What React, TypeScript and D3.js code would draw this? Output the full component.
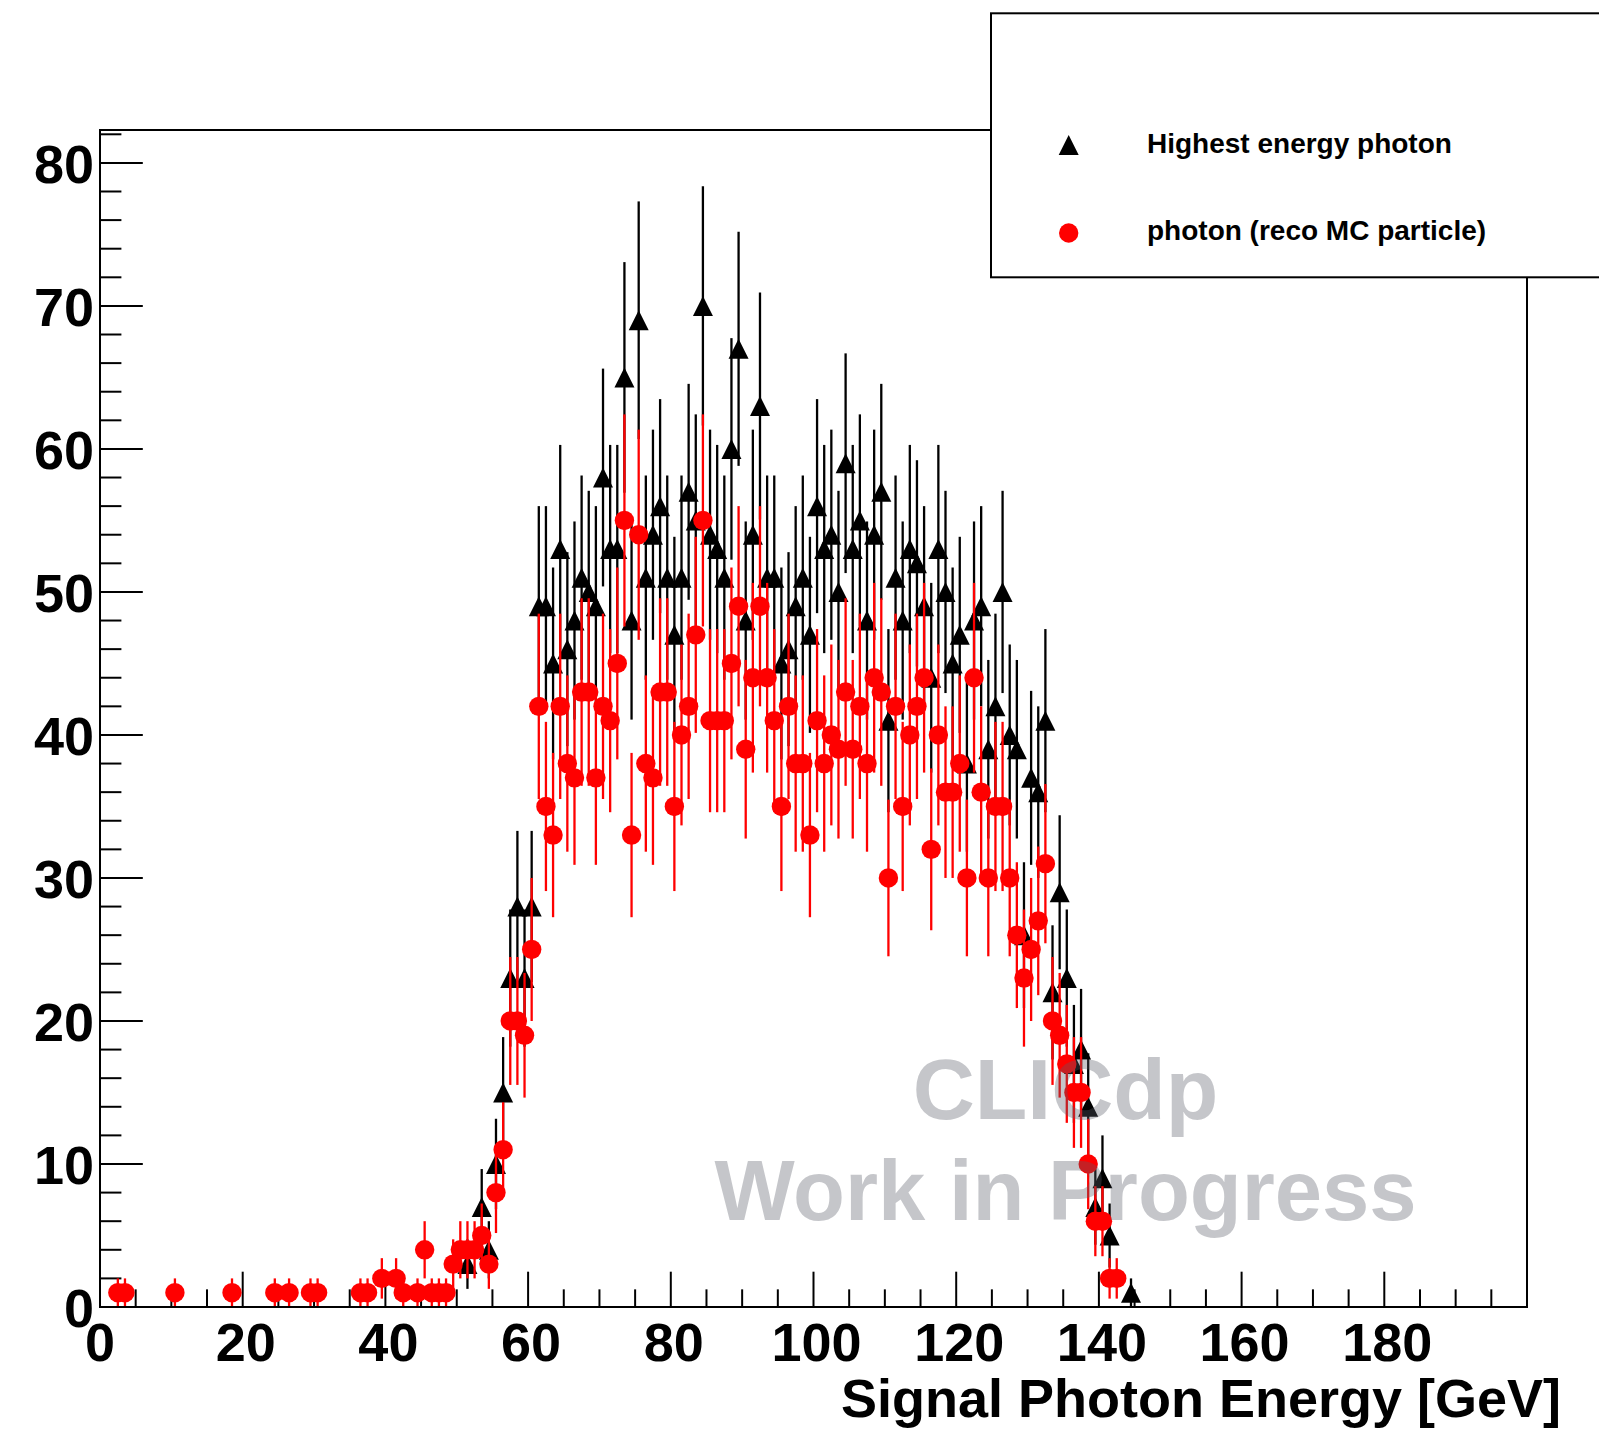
import React from "react";
import * as d3 from "d3";

// ---------------- data (1 GeV bins, value = bin lower edge) ----------------
const blackBins = [
  51, 53, 54, 55, 56, 57, 58, 59, 60, 61, 62, 63, 64, 65, 66, 67, 68, 69, 70,
  71, 72, 73, 74, 75, 76, 77, 78, 79, 80, 81, 82, 83, 84, 85, 86, 87, 88, 89,
  90, 91, 92, 93, 94, 95, 96, 97, 98, 99, 100, 101, 102, 103, 104, 105, 106,
  107, 108, 109, 110, 111, 112, 113, 114, 115, 116, 117, 118, 119, 120, 121,
  122, 123, 124, 125, 126, 127, 128, 129, 130, 131, 132, 133, 134, 135, 136,
  137, 138, 139, 140, 141, 144,
];
const blackCounts = [
  3, 7, 4, 10, 15, 23, 28, 23, 28, 49, 49, 45, 53, 46, 48, 51, 50, 49, 58,
  53, 53, 65, 48, 69, 51, 54, 56, 51, 47, 51, 57, 55, 70, 54, 53, 51, 60, 67,
  48, 54, 63, 51, 51, 45, 46, 49, 51, 47, 56, 53, 54, 50, 59, 53, 55,
  48, 54, 57, 41, 51, 48, 53, 52, 49, 44, 53, 50, 45, 47, 38,
  48, 49, 39, 42, 50, 40, 39, 26, 37, 36, 41, 22, 29, 23, 17,
  18, 14, 7, 9, 5, 1,
];

const redBins = [
  2, 3, 10, 18, 24, 26, 29, 30, 36, 37, 39, 41, 42, 44, 45, 46, 47, 48,
  49, 50, 51, 52, 53, 54, 55, 56, 57, 58, 59, 60, 61, 62, 63, 64, 65, 66, 67,
  68, 69, 70, 71, 72, 73, 74, 75, 76, 77, 78, 79, 80, 81, 82, 83, 84, 85, 86,
  87, 88, 89, 90, 91, 92, 93, 94, 95, 96, 97, 98, 99, 100, 101, 102, 103, 104,
  105, 106, 107, 108, 109, 110, 111, 112, 113, 114, 115, 116, 117, 118, 119,
  120, 121, 122, 123, 124, 125, 126, 127, 128, 129, 130, 131, 132, 133, 134,
  135, 136, 137, 138, 139, 140, 141, 142,
];
const redCounts = [
  1, 1, 1, 1, 1, 1, 1, 1, 1, 1, 2, 2, 1, 1, 4, 1, 1, 1,
  3, 4, 4, 4, 5, 3, 8, 11, 20, 20, 19, 25, 42, 35, 33, 42, 38, 37, 43,
  43, 37, 42, 41, 45, 55, 33, 54, 38, 37, 43, 43, 35, 40, 42, 47, 55, 41, 41,
  41, 45, 49, 39, 44, 49, 44, 41, 35, 42, 38, 38, 33, 41, 38, 40, 39, 43,
  39, 42, 38, 44, 43, 30, 42, 35, 40, 42, 44, 32, 40, 36, 36,
  38, 30, 44, 36, 30, 35, 35, 30, 26, 23, 25, 27, 31, 20, 19,
  17, 15, 15, 10, 6, 6, 2, 2,
];

const xTickLabels = [0, 20, 40, 60, 80, 100, 120, 140, 160, 180];
const yTickLabels = [0, 10, 20, 30, 40, 50, 60, 70, 80];
const legendLabels = ["Highest energy photon", "photon (reco MC particle)"];
const xTitle = "Signal Photon Energy [GeV]";
const watermarkLines = ["CLICdp", "Work in Progress"];

const X_MIN = 0;
const X_MAX = 200;
const Y_MAX = 82.3;
const BIN_WIDTH = 1;

// ---------------- layout ----------------
const W = 1599;
const H = 1429;
const FRAME = { left: 100, right: 1527, top: 130, bottom: 1307 };
const FONT = "'Liberation Sans', Arial, Helvetica, sans-serif";

const x = d3.scaleLinear().domain([X_MIN, X_MAX]).range([FRAME.left, FRAME.right]);
const y = d3.scaleLinear().domain([0, Y_MAX]).range([FRAME.bottom, FRAME.top]);

const frameW = FRAME.right - FRAME.left;
const frameH = FRAME.bottom - FRAME.top;
const xTickMajor = 0.03 * frameH;
const yTickMajor = 0.03 * frameW;

const xMinorTicks = d3.range(X_MIN, X_MAX, 5);
const yMinorTicks = d3.range(0, Y_MAX, 2);

const triPath = (s: number) => `M${-s},${s}L${s},${s}L0,${-s}Z`;

function Series({ bins, counts, color, marker }: { bins: number[]; counts: number[]; color: string; marker: "tri" | "circle" }) {
  const pts = bins.map((b, i) => ({ cx: x(b + BIN_WIDTH / 2), n: counts[i] }));
  return (
    <g>
      {pts.map((p, i) => {
        const e = Math.sqrt(p.n);
        return (
          <line key={"e" + i} x1={p.cx} x2={p.cx} y1={y(p.n - e)} y2={y(Math.min(p.n + e, Y_MAX))}
            stroke={color} strokeWidth={2.3} />
        );
      })}
      {pts.map((p, i) =>
        marker === "tri" ? (
          <path key={"m" + i} d={triPath(10)} transform={`translate(${p.cx},${y(p.n)})`} fill={color} />
        ) : (
          <circle key={"m" + i} cx={p.cx} cy={y(p.n)} r={9.7} fill={color} />
        )
      )}
    </g>
  );
}

export default function App() {
  return (
    <>
      <style>{`html,body{margin:0;padding:0;background:#fff;overflow:hidden}`}</style>
      <svg width={W} height={H} viewBox={`0 0 ${W} ${H}`} style={{ display: "block" }} fontFamily={FONT}>
        <rect x={0} y={0} width={W} height={H} fill="#fff" />

        {/* x ticks */}
        {xMinorTicks.map((t) => {
          const major = t % 20 === 0;
          return (
            <line key={"xt" + t} x1={x(t)} x2={x(t)} y1={FRAME.bottom}
              y2={FRAME.bottom - (major ? xTickMajor : xTickMajor / 2)} stroke="#000" strokeWidth={2} />
          );
        })}
        {/* y ticks */}
        {yMinorTicks.map((t) => {
          const major = t % 10 === 0;
          return (
            <line key={"yt" + t} x1={FRAME.left} x2={FRAME.left + (major ? yTickMajor : yTickMajor / 2)}
              y1={y(t)} y2={y(t)} stroke="#000" strokeWidth={2} />
          );
        })}

        {/* data */}
        <Series bins={blackBins} counts={blackCounts} color="#000" marker="tri" />
        <Series bins={redBins} counts={redCounts} color="#ff0000" marker="circle" />

        {/* frame */}
        <rect x={FRAME.left} y={FRAME.top} width={frameW} height={frameH} fill="none" stroke="#000" strokeWidth={2} />

        {/* tick labels */}
        {xTickLabels.map((t) => (
          <text key={"xl" + t} x={x(t) + (t === 0 ? 0 : 3)} y={1361} textAnchor="middle" fontSize={54} fontWeight="bold" fill="#000">
            {t}
          </text>
        ))}
        {yTickLabels.map((t) => (
          <text key={"yl" + t} x={94} y={y(t) + 20} textAnchor="end" fontSize={54} fontWeight="bold" fill="#000">
            {t}
          </text>
        ))}

        {/* axis title */}
        <text x={1561} y={1417} textAnchor="end" fontSize={54} fontWeight="bold" fill="#000">
          {xTitle}
        </text>

        {/* watermark */}
        <g fill="rgb(89,92,104)" fillOpacity={0.35} fontWeight="bold" textAnchor="middle">
          <text x={1065.5} y={1119} fontSize={86}>{watermarkLines[0]}</text>
          <text x={1065.5} y={1220} fontSize={85}>{watermarkLines[1]}</text>
        </g>

        {/* legend */}
        <rect x={991} y={13.3} width={700} height={264} fill="#fff" stroke="#000" strokeWidth={2} />
        <path d={triPath(10)} transform="translate(1068.7,145)" fill="#000" />
        <circle cx={1068.7} cy={233} r={9.7} fill="#ff0000" />
        <text x={1147} y={153.3} fontSize={28} fontWeight="bold" fill="#000">{legendLabels[0]}</text>
        <text x={1147} y={240} fontSize={28} fontWeight="bold" fill="#000">{legendLabels[1]}</text>
      </svg>
    </>
  );
}
